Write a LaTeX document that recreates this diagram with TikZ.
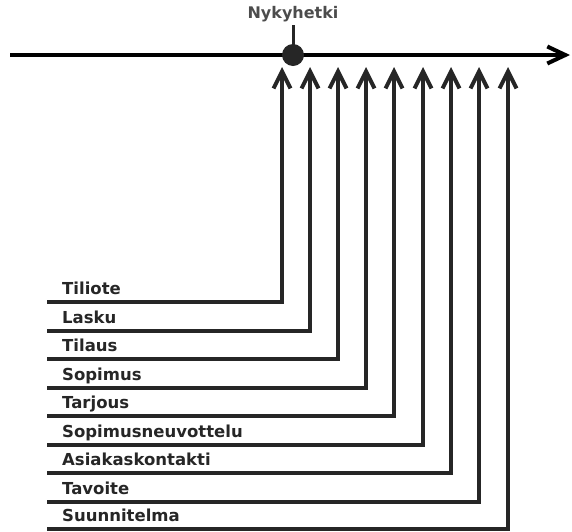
\documentclass[tikz,border=0pt]{standalone}
\usepackage{fontspec}
\setmainfont{DejaVu Sans}
\usetikzlibrary{arrows.meta}
\tikzset{
	lbl/.style={anchor=base west, inner sep=0pt, font=\fontsize{16.5}{17}\selectfont\bfseries, text=black!85},
	conn/.style={line width=4pt, color=black!85, -{Straight Barb[length=17pt, width=17pt, line width=4pt]}},
}

\begin{document}
\begin{tikzpicture}[x=1pt, y=-1pt]
		%%%%% START %%%%%
		\useasboundingbox (0, 0) rectangle (572, 531);
		
		% time axis
		\coordinate (axstart) at (10, 55);
		\coordinate (axend) at (570, 55);
		\draw[line width=4pt, -{Straight Barb[length=18pt, width=17pt, line width=4pt]}] (axstart) -- (axend);
		
		% present moment
		\node[circle, fill=black!85, minimum size=22pt, inner sep=0pt] (now) at (293, 55) {};
		\node[font=\fontsize{16}{17}\selectfont\bfseries, text=black!70] (nowlbl) at (293, 14) {Nykyhetki};
		\draw[line width=3pt, black!85] (now.center) -- (nowlbl.south);
		
		% arrow tips
		\coordinate (t1) at (282, 67);
		\coordinate (t2) at (310, 67);
		\coordinate (t3) at (338, 67);
		\coordinate (t4) at (366, 67);
		\coordinate (t5) at (394, 67);
		\coordinate (t6) at (423, 67);
		\coordinate (t7) at (451, 67);
		\coordinate (t8) at (479, 67);
		\coordinate (t9) at (508, 67);
		
		% line starts
		\coordinate (s1) at (47, 302);
		\coordinate (s2) at (47, 331);
		\coordinate (s3) at (47, 359);
		\coordinate (s4) at (47, 388);
		\coordinate (s5) at (47, 416);
		\coordinate (s6) at (47, 445);
		\coordinate (s7) at (47, 473);
		\coordinate (s8) at (47, 502);
		\coordinate (s9) at (47, 529);
		
		% labels
		\node[lbl] (l1) at (62, 294) {Tiliote};
		\node[lbl] (l2) at (62, 323) {Lasku};
		\node[lbl] (l3) at (62, 351) {Tilaus};
		\node[lbl] (l4) at (62, 380) {Sopimus};
		\node[lbl] (l5) at (62, 408) {Tarjous};
		\node[lbl] (l6) at (62, 437) {Sopimusneuvottelu};
		\node[lbl] (l7) at (62, 465) {Asiakaskontakti};
		\node[lbl] (l8) at (62, 494) {Tavoite};
		\node[lbl] (l9) at (62, 521) {Suunnitelma};
		
		% connectors
		\draw[conn] (s1) -| (t1);
		\draw[conn] (s2) -| (t2);
		\draw[conn] (s3) -| (t3);
		\draw[conn] (s4) -| (t4);
		\draw[conn] (s5) -| (t5);
		\draw[conn] (s6) -| (t6);
		\draw[conn] (s7) -| (t7);
		\draw[conn] (s8) -| (t8);
		\draw[conn] (s9) -| (t9);
		%%%%% END %%%%%
	\end{tikzpicture}
\end{document}
